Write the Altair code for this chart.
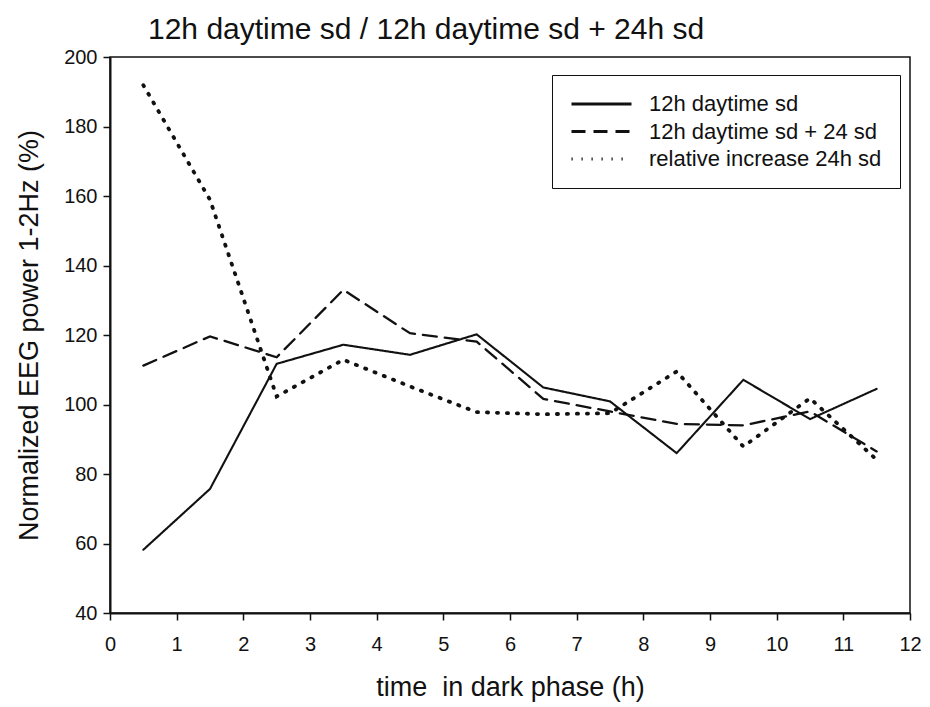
import altair as alt
import pandas as pd

hours = [0.5, 1.5, 2.5, 3.5, 4.5, 5.5, 6.5, 7.5, 8.5, 9.5, 10.5, 11.5]
daytime_sd = [58.2, 75.7, 111.7, 117.2, 114.3, 120.2, 104.9, 100.9, 86.0, 107.1, 95.8, 104.5]
daytime_plus_24 = [111.2, 119.6, 113.6, 133.0, 120.5, 118.1, 101.6, 98.0, 94.4, 94.0, 98.0, 86.5]
relative_increase = [191.9, 158.9, 102.3, 112.9, 105.2, 97.8, 97.2, 97.5, 109.5, 87.9, 101.8, 84.1]

series_names = ["12h daytime sd", "12h daytime sd + 24 sd", "relative increase 24h sd"]
line_widths = [2.1, 2.3, 3.8]

rows = []
for name, vals, w in zip(series_names, [daytime_sd, daytime_plus_24, relative_increase], line_widths):
    for h, v in zip(hours, vals):
        rows.append({"hour": h, "value": v, "series": name, "sw": w})
df = pd.DataFrame(rows)

FONT = "Liberation Sans"
INK = "#111111"

legend = alt.Legend(
    orient="none",
    legendX=442,
    legendY=18,
    title=None,
    strokeColor=INK,
    fillColor="white",
    padding=18,
    symbolType="stroke",
    symbolSize=3600,
    symbolStrokeColor=INK,
    symbolStrokeWidth=3,
    clipHeight=22,
    rowPadding=5.5,
    labelFont=FONT,
    labelFontSize=22,
    labelColor=INK,
    labelOffset=16,
    labelLimit=0,
)

chart = (
    alt.Chart(df)
    .mark_line(color=INK, strokeCap="round")
    .encode(
        x=alt.X(
            "hour:Q",
            scale=alt.Scale(domain=[0, 12], nice=False),
            axis=alt.Axis(values=list(range(0, 13)), title="time\u00a0 in dark phase (h)", grid=False, labelFlush=False),
        ),
        y=alt.Y(
            "value:Q",
            scale=alt.Scale(domain=[40, 200], nice=False),
            axis=alt.Axis(values=list(range(40, 201, 20)), title="Normalized EEG power 1-2Hz (%)", grid=False, labelFlush=False),
        ),
        strokeDash=alt.StrokeDash(
            "series:N",
            scale=alt.Scale(domain=series_names, range=[[1, 0], [14, 8], [1.2, 8.8]]),
            legend=legend,
        ),
        strokeWidth=alt.StrokeWidth("sw:Q", scale=None, legend=None),
    )
    .properties(
        width=800,
        height=556,
        autosize=alt.AutoSizeParams(type="none"),
        padding={"left": 102, "top": 49, "right": 12, "bottom": 90},
        title=alt.TitleParams(
            "12h daytime sd / 12h daytime sd + 24h sd",
            anchor="start",
            frame="group",
            dx=38,
            offset=2,
            font=FONT,
            fontSize=30,
            fontWeight="normal",
            color=INK,
        ),
    )
    .configure_view(stroke=INK, strokeWidth=1.5)
    .configure_axis(
        domainColor=INK,
        domainWidth=2,
        tickColor=INK,
        tickWidth=1.5,
        tickSize=7,
        labelFont=FONT,
        labelFontSize=20,
        labelColor=INK,
        titleFont=FONT,
        titleFontSize=27,
        titleFontWeight="normal",
        titleColor=INK,
    )
    .configure_axisX(labelPadding=14, titlePadding=20)
    .configure_axisY(labelPadding=6, titlePadding=20)
)

chart.save("out.html", embed_options={"renderer": "svg", "actions": False})
